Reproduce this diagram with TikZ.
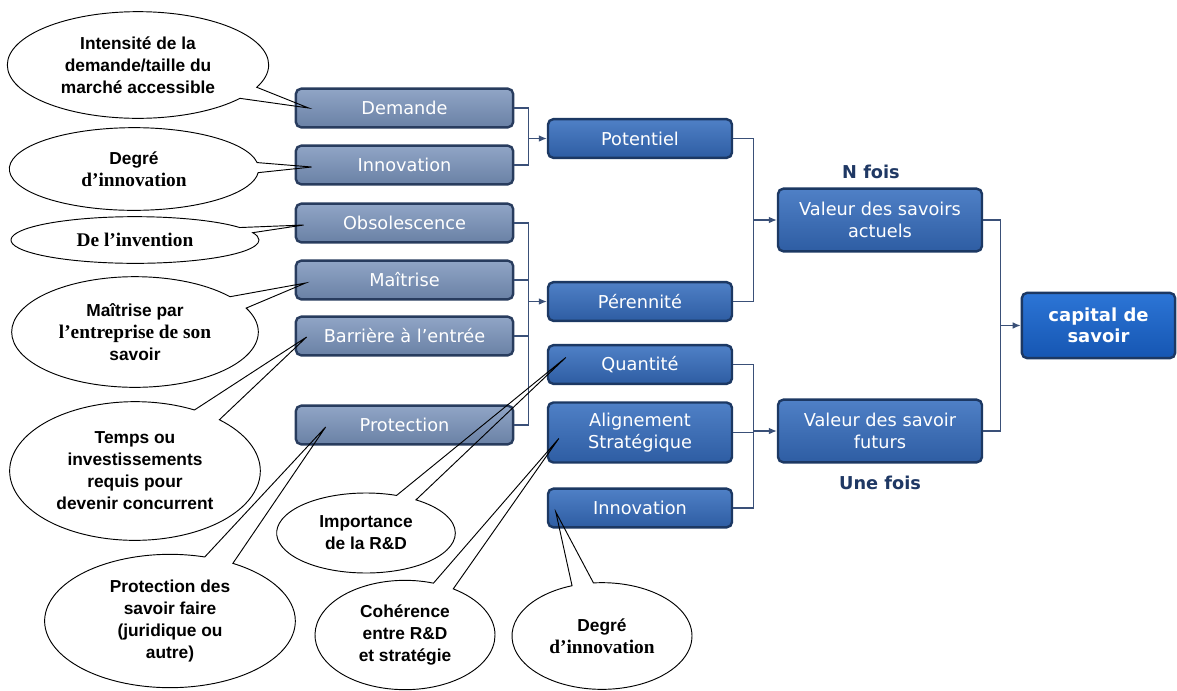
\documentclass[tikz,border=0pt]{standalone}
\usepackage{fontspec}
\setmainfont{DejaVu Sans}
\newfontfamily\ars{Liberation Sans}
\newfontfamily\tms{Liberation Serif}
\usetikzlibrary{shapes.callouts,calc,arrows.meta}
\definecolor{gtop}{HTML}{90A5C6}
\definecolor{gbot}{HTML}{6A81A5}
\definecolor{gbord}{HTML}{283C5E}
\definecolor{btop}{HTML}{4F80C6}
\definecolor{bbot}{HTML}{2E5DA3}
\definecolor{bbord}{HTML}{1C3863}
\definecolor{ctop}{HTML}{2C75D6}
\definecolor{cbot}{HTML}{1656B2}
\definecolor{connc}{HTML}{3A5078}
\definecolor{navy}{HTML}{1F3864}
\newcommand{\tm}[1]{{\tms\fontsize{14.5}{16.5}\selectfont #1}}
\begin{document}
\begin{tikzpicture}[x=0.75pt,y=-0.75pt,
  boxbase/.style={rectangle,rounded corners=4pt,line width=1.8pt,text=white,
    align=center,inner sep=2pt,font=\fontsize{13.3}{16.5}\selectfont},
  gbox/.style={boxbase,draw=gbord,top color=gtop,bottom color=gbot,
    minimum width=163pt,minimum height=29pt},
  bbox/.style={boxbase,draw=bbord,top color=btop,bottom color=bbot,
    minimum width=138pt,minimum height=29pt},
  rbox/.style={boxbase,draw=bbord,top color=btop,bottom color=bbot,
    minimum width=153pt,minimum height=47pt},
  cbox/.style={boxbase,draw=bbord,top color=ctop,bottom color=cbot,
    minimum width=115pt,minimum height=49pt,font=\fontsize{13.5}{16}\selectfont\bfseries},
  conn/.style={draw=connc,line width=0.9pt},
  arr/.style={conn,-{Latex[length=6pt,width=5pt]}},
  lab/.style={text=navy,font=\fontsize{13.3}{15.5}\selectfont\bfseries},
  callo/.style={ellipse callout,draw=black,line width=0.7pt,inner sep=0pt,align=center,
    callout pointer arc=14,
    font=\ars\bfseries\fontsize{13}{16.5}\selectfont}
]
\useasboundingbox[fill=white] (0,0) rectangle (1177,690);

% left column
\node[gbox] (dem) at (404.5,108) {Demande};
\node[gbox] (inn) at (404.5,165) {Innovation};
\node[gbox] (obs) at (404.5,223) {Obsolescence};
\node[gbox] (mai) at (404.5,280) {Maîtrise};
\node[gbox] (bar) at (404.5,336) {Barrière à l’entrée};
\node[gbox] (pro) at (404.5,425) {Protection};

% middle column
\node[bbox] (pot) at (640,138.5) {Potentiel};
\node[bbox] (per) at (640,301.5) {Pérennité};
\node[bbox] (qua) at (640,364.5) {Quantité};
\node[bbox,minimum height=45pt] (ali) at (640,432.5) {Alignement\\Stratégique};
\node[bbox] (in2) at (640,508) {Innovation};

% right column
\node[rbox] (act) at (880,220) {Valeur des savoirs\\actuels};
\node[rbox] (fut) at (880,431) {Valeur des savoir\\futurs};
\node[cbox] (cap) at (1098.5,325.5) {capital de\\savoir};

\node[lab] (nf) at (871,172) {N fois};
\node[lab] (uf) at (880,483) {Une fois};

% junctions
\coordinate (j1) at ($(pot.west)+(-18,0)$);
\coordinate (j2) at ($(per.west)+(-18,0)$);
\coordinate (j3) at ($(act.west)+(-23,0)$);
\coordinate (j4) at ($(fut.west)+(-23,0)$);
\coordinate (j5) at ($(cap.west)+(-20,0)$);

\draw[conn] (dem.east) -| (j1) |- (inn.east);
\draw[arr] (j1) -- (pot.west);
\draw[conn] (obs.east) -| (j2) |- (pro.east);
\draw[conn] (mai.east) -- (mai.east -| j2);
\draw[conn] (bar.east) -- (bar.east -| j2);
\draw[arr] (j2) -- (per.west);
\draw[conn] (pot.east) -| (j3) |- (per.east);
\draw[arr] (j3) -- (act.west);
\draw[conn] (qua.east) -| (j4) |- (in2.east);
\draw[conn] (ali.east) -- (ali.east -| j4);
\draw[arr] (j4) -- (fut.west);
\draw[conn] (act.east) -| (j5) |- (fut.east);
\draw[arr] (j5) -- (cap.west);

% callout tips
\coordinate (tDem) at ($(dem.west)+(14,0)$);
\coordinate (tInn) at ($(inn.west)+(17,2)$);
\coordinate (tObs) at ($(obs.west)+(9,2)$);
\coordinate (tMai) at ($(mai.west)+(11,3)$);
\coordinate (tBar) at ($(bar.west)+(12,1)$);
\coordinate (tPro) at ($(pro.west)+(31,2)$);
\coordinate (tQua) at ($(qua.west)+(19,-7)$);
\coordinate (tAli) at ($(ali.west)+(12,6)$);
\coordinate (tIn2) at ($(in2.west)+(9,4)$);

% callouts
\node[callo,minimum width=196pt,minimum height=80pt,callout absolute pointer=(tDem)]
  (e1) at (138,65) {Intensité de la\\demande/taille du\\marché accessible};
\node[callo,minimum width=187pt,minimum height=62pt,callout absolute pointer=(tInn)]
  (e2) at (134,169) {Degré\\\tm{d’innovation}};
\node[callo,minimum width=186pt,minimum height=35pt,callout absolute pointer=(tObs)]
  (e3) at (135,240) {\tm{De l’invention}};
\node[callo,minimum width=185pt,minimum height=83pt,callout absolute pointer=(tMai)]
  (e4) at (135,332) {Maîtrise par\\\tm{l’entreprise de son}\\savoir};
\node[callo,minimum width=188pt,minimum height=104pt,callout absolute pointer=(tBar)]
  (e5) at (135,471) {Temps ou\\investissements\\requis pour\\devenir concurrent};
\node[callo,minimum width=188pt,minimum height=100pt,callout absolute pointer=(tPro)]
  (e6) at (170,621) {Protection des\\savoir faire\\(juridique ou\\autre)};
\node[callo,minimum width=134pt,minimum height=60pt,callout absolute pointer=(tQua)]
  (e7) at (366,533) {Importance\\de la R\&D};
\node[callo,minimum width=135pt,minimum height=82pt,callout absolute pointer=(tAli)]
  (e8) at (405,635) {Cohérence\\entre R\&D\\et stratégie};
\node[callo,minimum width=135pt,minimum height=80pt,callout absolute pointer=(tIn2)]
  (e9) at (602,636) {Degré\\\tm{d’innovation}};
\end{tikzpicture}
\end{document}
